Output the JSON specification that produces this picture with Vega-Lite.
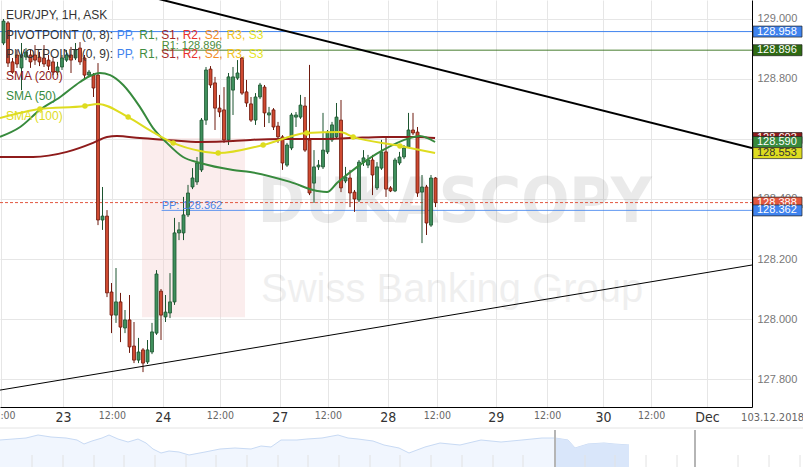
{
  "$schema": "https://vega.github.io/schema/vega-lite/v6.json",
  "width": 752,
  "height": 407,
  "autosize": {"type": "none"},
  "padding": {"left": 0, "top": 0, "right": 51, "bottom": 60},
  "config": {"view": {"stroke": null}, "font": "Liberation Sans", "scale": {"continuousPadding": 0}},
  "datasets": {
    "candles": [
      {"t":1,"o":128.920,"h":129.000,"l":128.913,"c":128.993},
      {"t":2,"o":128.987,"h":128.993,"l":128.840,"c":128.853},
      {"t":3,"o":128.857,"h":128.870,"l":128.817,"c":128.823},
      {"t":4,"o":128.880,"h":128.897,"l":128.837,"c":128.850},
      {"t":5,"o":128.837,"h":128.920,"l":128.763,"c":128.880},
      {"t":6,"o":128.873,"h":128.903,"l":128.863,"c":128.890},
      {"t":7,"o":128.880,"h":128.897,"l":128.837,"c":128.857},
      {"t":8,"o":128.880,"h":128.913,"l":128.847,"c":128.863},
      {"t":9,"o":128.873,"h":128.890,"l":128.843,"c":128.857},
      {"t":10,"o":128.870,"h":128.913,"l":128.840,"c":128.850},
      {"t":11,"o":128.863,"h":128.880,"l":128.830,"c":128.843},
      {"t":12,"o":128.857,"h":128.870,"l":128.813,"c":128.823},
      {"t":13,"o":128.823,"h":128.857,"l":128.813,"c":128.840},
      {"t":14,"o":128.840,"h":128.880,"l":128.830,"c":128.870},
      {"t":15,"o":128.863,"h":128.897,"l":128.857,"c":128.880},
      {"t":16,"o":128.880,"h":128.907,"l":128.820,"c":128.863},
      {"t":17,"o":128.870,"h":128.920,"l":128.863,"c":128.897},
      {"t":18,"o":128.903,"h":128.923,"l":128.847,"c":128.857},
      {"t":19,"o":128.870,"h":128.880,"l":128.797,"c":128.813},
      {"t":20,"o":128.813,"h":128.830,"l":128.807,"c":128.823},
      {"t":21,"o":128.813,"h":128.820,"l":128.740,"c":128.770},
      {"t":22,"o":128.813,"h":128.853,"l":128.313,"c":128.330},
      {"t":23,"o":128.330,"h":128.440,"l":128.297,"c":128.343},
      {"t":24,"o":128.343,"h":128.363,"l":128.073,"c":128.087},
      {"t":25,"o":128.090,"h":128.120,"l":127.953,"c":128.013},
      {"t":26,"o":128.013,"h":128.170,"l":127.987,"c":128.057},
      {"t":27,"o":128.057,"h":128.087,"l":127.923,"c":127.973},
      {"t":28,"o":127.970,"h":128.030,"l":127.953,"c":127.997},
      {"t":29,"o":127.997,"h":128.080,"l":127.887,"c":127.907},
      {"t":30,"o":127.910,"h":127.990,"l":127.853,"c":127.863},
      {"t":31,"o":127.863,"h":127.937,"l":127.853,"c":127.890},
      {"t":32,"o":127.897,"h":127.903,"l":127.823,"c":127.853},
      {"t":33,"o":127.857,"h":127.930,"l":127.850,"c":127.897},
      {"t":34,"o":127.890,"h":127.987,"l":127.883,"c":127.957},
      {"t":35,"o":127.953,"h":128.163,"l":127.947,"c":128.150},
      {"t":36,"o":128.093,"h":128.100,"l":127.930,"c":128.013},
      {"t":37,"o":128.007,"h":128.080,"l":127.990,"c":128.023},
      {"t":38,"o":128.020,"h":128.153,"l":128.003,"c":128.057},
      {"t":39,"o":128.057,"h":128.337,"l":128.047,"c":128.287},
      {"t":40,"o":128.287,"h":128.323,"l":128.263,"c":128.297},
      {"t":41,"o":128.287,"h":128.407,"l":128.263,"c":128.347},
      {"t":42,"o":128.347,"h":128.447,"l":128.340,"c":128.420},
      {"t":43,"o":128.440,"h":128.503,"l":128.433,"c":128.470},
      {"t":44,"o":128.457,"h":128.540,"l":128.447,"c":128.520},
      {"t":45,"o":128.497,"h":128.670,"l":128.490,"c":128.663},
      {"t":46,"o":128.663,"h":128.840,"l":128.647,"c":128.830},
      {"t":47,"o":128.833,"h":128.843,"l":128.770,"c":128.780},
      {"t":48,"o":128.787,"h":128.807,"l":128.630,"c":128.703},
      {"t":49,"o":128.703,"h":128.747,"l":128.673,"c":128.690},
      {"t":50,"o":128.697,"h":128.773,"l":128.587,"c":128.597},
      {"t":51,"o":128.597,"h":128.820,"l":128.580,"c":128.807},
      {"t":52,"o":128.763,"h":128.840,"l":128.680,"c":128.807},
      {"t":53,"o":128.803,"h":128.863,"l":128.797,"c":128.820},
      {"t":54,"o":128.870,"h":128.873,"l":128.747,"c":128.753},
      {"t":55,"o":128.757,"h":128.797,"l":128.707,"c":128.720},
      {"t":56,"o":128.717,"h":128.740,"l":128.657,"c":128.663},
      {"t":57,"o":128.663,"h":128.753,"l":128.647,"c":128.740},
      {"t":58,"o":128.740,"h":128.787,"l":128.733,"c":128.780},
      {"t":59,"o":128.773,"h":128.780,"l":128.640,"c":128.687},
      {"t":60,"o":128.680,"h":128.707,"l":128.653,"c":128.687},
      {"t":61,"o":128.697,"h":128.703,"l":128.630,"c":128.640},
      {"t":62,"o":128.643,"h":128.657,"l":128.587,"c":128.607},
      {"t":63,"o":128.607,"h":128.613,"l":128.497,"c":128.520},
      {"t":64,"o":128.513,"h":128.587,"l":128.507,"c":128.580},
      {"t":65,"o":128.570,"h":128.687,"l":128.563,"c":128.680},
      {"t":66,"o":128.673,"h":128.690,"l":128.640,"c":128.680},
      {"t":67,"o":128.673,"h":128.747,"l":128.667,"c":128.713},
      {"t":68,"o":128.710,"h":128.740,"l":128.557,"c":128.563},
      {"t":69,"o":128.597,"h":128.847,"l":128.413,"c":128.420},
      {"t":70,"o":128.453,"h":128.563,"l":128.387,"c":128.507},
      {"t":71,"o":128.507,"h":128.530,"l":128.497,"c":128.513},
      {"t":72,"o":128.507,"h":128.687,"l":128.500,"c":128.563},
      {"t":73,"o":128.557,"h":128.630,"l":128.550,"c":128.623},
      {"t":74,"o":128.597,"h":128.657,"l":128.590,"c":128.647},
      {"t":75,"o":128.607,"h":128.720,"l":128.603,"c":128.673},
      {"t":76,"o":128.663,"h":128.730,"l":128.423,"c":128.437},
      {"t":77,"o":128.460,"h":128.507,"l":128.453,"c":128.473},
      {"t":78,"o":128.470,"h":128.497,"l":128.373,"c":128.420},
      {"t":79,"o":128.423,"h":128.430,"l":128.357,"c":128.400},
      {"t":80,"o":128.397,"h":128.530,"l":128.390,"c":128.523},
      {"t":81,"o":128.523,"h":128.563,"l":128.510,"c":128.537},
      {"t":82,"o":128.513,"h":128.547,"l":128.503,"c":128.530},
      {"t":83,"o":128.530,"h":128.547,"l":128.413,"c":128.480},
      {"t":84,"o":128.437,"h":128.523,"l":128.430,"c":128.507},
      {"t":85,"o":128.503,"h":128.597,"l":128.497,"c":128.557},
      {"t":86,"o":128.557,"h":128.607,"l":128.407,"c":128.433},
      {"t":87,"o":128.437,"h":128.443,"l":128.423,"c":128.427},
      {"t":88,"o":128.427,"h":128.537,"l":128.423,"c":128.530},
      {"t":89,"o":128.520,"h":128.557,"l":128.513,"c":128.540},
      {"t":90,"o":128.540,"h":128.580,"l":128.533,"c":128.570},
      {"t":91,"o":128.573,"h":128.687,"l":128.570,"c":128.630},
      {"t":92,"o":128.630,"h":128.687,"l":128.613,"c":128.620},
      {"t":93,"o":128.623,"h":128.640,"l":128.407,"c":128.420},
      {"t":94,"o":128.423,"h":128.480,"l":128.253,"c":128.440},
      {"t":95,"o":128.440,"h":128.447,"l":128.280,"c":128.320},
      {"t":96,"o":128.313,"h":128.480,"l":128.307,"c":128.470},
      {"t":97,"o":128.470,"h":128.473,"l":128.373,"c":128.388}
    ],
    "sma": [
      {"s":"SMA200","t":0.22,"p":128.540},{"s":"SMA200","t":7.55,"p":128.540},{"s":"SMA200","t":15.1,"p":128.557},{"s":"SMA200","t":20.9,"p":128.587},{"s":"SMA200","t":24.0,"p":128.607},{"s":"SMA200","t":26.2,"p":128.610},{"s":"SMA200","t":31.3,"p":128.603},{"s":"SMA200","t":37.3,"p":128.597},{"s":"SMA200","t":44.7,"p":128.590},{"s":"SMA200","t":52.0,"p":128.593},{"s":"SMA200","t":55.8,"p":128.597},{"s":"SMA200","t":63.1,"p":128.600},{"s":"SMA200","t":70.7,"p":128.600},{"s":"SMA200","t":78.0,"p":128.603},{"s":"SMA200","t":85.3,"p":128.607},{"s":"SMA200","t":92.9,"p":128.607},{"s":"SMA200","t":96.9,"p":128.603},
      {"s":"SMA50","t":0.22,"p":128.607},{"s":"SMA50","t":4.7,"p":128.640},{"s":"SMA50","t":9.1,"p":128.697},{"s":"SMA50","t":13.6,"p":128.740},{"s":"SMA50","t":18.0,"p":128.790},{"s":"SMA50","t":20.2,"p":128.810},{"s":"SMA50","t":22.4,"p":128.820},{"s":"SMA50","t":24.7,"p":128.813},{"s":"SMA50","t":27.6,"p":128.780},{"s":"SMA50","t":31.3,"p":128.707},{"s":"SMA50","t":34.2,"p":128.637},{"s":"SMA50","t":37.3,"p":128.587},{"s":"SMA50","t":40.9,"p":128.540},{"s":"SMA50","t":44.7,"p":128.520},{"s":"SMA50","t":52.0,"p":128.497},{"s":"SMA50","t":55.8,"p":128.490},{"s":"SMA50","t":64.7,"p":128.457},{"s":"SMA50","t":70.7,"p":128.427},{"s":"SMA50","t":72.9,"p":128.423},{"s":"SMA50","t":75.1,"p":128.453},{"s":"SMA50","t":79.6,"p":128.507},{"s":"SMA50","t":85.3,"p":128.563},{"s":"SMA50","t":91.3,"p":128.603},{"s":"SMA50","t":93.5,"p":128.610},{"s":"SMA50","t":96.9,"p":128.590},
      {"s":"SMA100","t":0.22,"p":128.670},{"s":"SMA100","t":9.1,"p":128.700,"m":1},{"s":"SMA100","t":19.1,"p":128.710,"m":1},{"s":"SMA100","t":22.0,"p":128.717},{"s":"SMA100","t":28.7,"p":128.673,"m":1},{"s":"SMA100","t":34.2,"p":128.623},{"s":"SMA100","t":38.7,"p":128.587,"m":1},{"s":"SMA100","t":44.7,"p":128.560},{"s":"SMA100","t":48.7,"p":128.553,"m":1},{"s":"SMA100","t":58.7,"p":128.580,"m":1},{"s":"SMA100","t":68.4,"p":128.620,"m":1},{"s":"SMA100","t":75.8,"p":128.623},{"s":"SMA100","t":78.7,"p":128.607,"m":1},{"s":"SMA100","t":89.1,"p":128.577,"m":1},{"s":"SMA100","t":96.9,"p":128.553}
    ],
    "levels": [
      {"s":"PP","p":128.958,"t0":0.22,"t1":167.33},
      {"s":"R1L","p":128.896,"t0":36.15,"t1":167.33,"lab":"R1: 128.896"},
      {"s":"PP","p":128.362,"t0":36.15,"t1":167.33,"lab":"PP: 128.362"},
      {"s":"last","p":128.388,"t0":0.22,"t1":167.33}
    ],
    "trend": [
      {"id":"A","t":26.89,"p":129.099},{"id":"A","t":167.33,"p":128.570},
      {"id":"B","t":0.22,"p":127.763},{"id":"B","t":167.33,"p":128.180}
    ],
    "legend": [
      {"t":1.553,"p":129.013,"s":"txt","txt":"EUR/JPY, 1H, ASK"},
      {"t":1.553,"p":128.947,"s":"txt","txt":"PIVOTPOINT (0, 8):"},
      {"t":26.144,"p":128.947,"s":"PP","txt":"PP,"},
      {"t":31.182,"p":128.947,"s":"R1","txt":"R1,"},
      {"t":36.071,"p":128.947,"s":"S1","txt":"S1,"},
      {"t":40.811,"p":128.947,"s":"R2","txt":"R2,"},
      {"t":45.7,"p":128.947,"s":"S2","txt":"S2,"},
      {"t":50.589,"p":128.947,"s":"R3","txt":"R3,"},
      {"t":55.478,"p":128.947,"s":"S3","txt":"S3"},
      {"t":1.553,"p":128.883,"s":"txt","txt":"PIVOTPOINT (0, 9):"},
      {"t":26.144,"p":128.883,"s":"PP","txt":"PP,"},
      {"t":31.182,"p":128.883,"s":"R1","txt":"R1,"},
      {"t":36.071,"p":128.883,"s":"S1","txt":"S1,"},
      {"t":40.811,"p":128.883,"s":"R2","txt":"R2,"},
      {"t":45.7,"p":128.883,"s":"S2","txt":"S2,"},
      {"t":50.589,"p":128.883,"s":"R3","txt":"R3,"},
      {"t":55.478,"p":128.883,"s":"S3","txt":"S3"},
      {"t":1.553,"p":128.810,"s":"SMA200","txt":"SMA (200)"},
      {"t":1.553,"p":128.743,"s":"SMA50","txt":"SMA (50)"},
      {"t":1.553,"p":128.677,"s":"SMA100","txt":"SMA (100)"}
    ],
    "tags": [
      {"p":128.958,"s":"PP","lab":"128.958","g":"front"},
      {"p":128.896,"s":"R1L","lab":"128.896","g":"front"},
      {"p":128.603,"s":"SMA200","lab":"128.603","g":"back"},
      {"p":128.590,"s":"SMA50","lab":"128.590","g":"front"},
      {"p":128.553,"s":"SMA100","lab":"128.553","g":"front"},
      {"p":128.388,"s":"last","lab":"128.388","g":"back"},
      {"p":128.362,"s":"PP","lab":"128.362","g":"front"}
    ],
    "nav": [
      {"i":0,"v":27},{"i":26,"v":29},{"i":38,"v":32},{"i":51,"v":30},{"i":66,"v":29},{"i":77,"v":27},{"i":84,"v":23},{"i":92,"v":26},{"i":102,"v":29},{"i":109,"v":32},{"i":118,"v":28},{"i":128,"v":25},{"i":138,"v":28},{"i":146,"v":24},{"i":153,"v":18},{"i":161,"v":14},{"i":169,"v":16},{"i":179,"v":15},{"i":189,"v":12},{"i":205,"v":15},{"i":220,"v":18},{"i":235,"v":19},{"i":251,"v":18},{"i":261,"v":21},{"i":271,"v":20},{"i":281,"v":27},{"i":297,"v":27},{"i":307,"v":28},{"i":322,"v":29},{"i":338,"v":32},{"i":348,"v":29},{"i":358,"v":28},{"i":373,"v":26},{"i":384,"v":22},{"i":399,"v":19},{"i":409,"v":14},{"i":425,"v":20},{"i":440,"v":24},{"i":460,"v":22},{"i":481,"v":27},{"i":501,"v":25},{"i":522,"v":27},{"i":542,"v":29},{"i":555,"v":29},{"i":568,"v":27},{"i":575,"v":19},{"i":588,"v":23},{"i":604,"v":24},{"i":614,"v":23},{"i":629,"v":22}
    ],
    "navticks": [{"i":32},{"i":63},{"i":94},{"i":124},{"i":155},{"i":186},{"i":216},{"i":247},{"i":278},{"i":308},{"i":339},{"i":370},{"i":400},{"i":431},{"i":462},{"i":493},{"i":523},{"i":585},{"i":615},{"i":646},{"i":677},{"i":738},{"i":769},{"i":800}],
    "handles": [{"i":555},{"i":695}]
  },
  "resolve": {"scale": {"x": "independent", "y": "independent", "color": "independent"}, "axis": {"x": "independent", "y": "independent"}},
  "layer": [
    {
      "layer": [
        {
          "data": {"values": [{}]},
          "mark": {"type": "rect", "color": "#f4cfcf", "opacity": 0.38},
          "encoding": {
            "x": {"datum": 31.78, "type": "quantitative", "scale": {"domain": [0.22, 167.33], "nice": false, "zero": false, "padding": 0}},
            "x2": {"datum": 54.66},
            "y": {"datum": 128.603, "type": "quantitative", "scale": {"domain": [127.7067, 129.0633], "nice": false, "zero": false, "padding": 0}},
            "y2": {"datum": 128.006}
          }
        },
        {
          "data": {"values": [{}]},
          "mark": {"type": "text", "text": "DUKASCOPY", "font": "DejaVu Sans Condensed, Liberation Sans Narrow, DejaVu Sans, sans-serif", "fontWeight": "bold", "fontSize": 63, "color": "#000000", "opacity": 0.08, "align": "center", "baseline": "middle"},
          "encoding": {
            "x": {"datum": 101.3, "type": "quantitative"},
            "y": {"datum": 128.387, "type": "quantitative"}
          }
        },
        {
          "data": {"values": [{}]},
          "mark": {"type": "text", "text": "Swiss Banking Group", "font": "Liberation Sans, Arial, sans-serif", "fontSize": 40, "color": "#000000", "opacity": 0.06, "align": "center", "baseline": "middle"},
          "encoding": {
            "x": {"datum": 100.7, "type": "quantitative"},
            "y": {"datum": 128.097, "type": "quantitative"}
          }
        },
        {
          "data": {"name": "levels"},
          "mark": {"type": "rule", "strokeWidth": 1},
          "encoding": {
            "x": {"field": "t0", "type": "quantitative", "title": null},
            "x2": {"field": "t1"},
            "y": {"field": "p", "type": "quantitative", "title": null},
            "color": {"field": "s", "type": "nominal", "legend": null, "scale": {"domain": ["txt","PP","R1","S1","R2","S2","R3","S3","SMA200","SMA50","SMA100","R1L","last"], "range": ["#333333","#3f83ee","#3f8d3f","#a52828","#e8302c","#f28b1f","#f1c21d","#e6e41f","#8e1b1b","#378a3d","#dedc1f","#2e6a12","#e2573f"]}},
            "strokeDash": {"condition": {"test": "datum.s == 'last'", "value": [3, 2]}, "value": [1, 0]}
          }
        },
        {
          "data": {"name": "candles"},
          "mark": {"type": "rule", "strokeWidth": 1},
          "encoding": {
            "x": {"field": "t", "type": "quantitative", "title": null, "scale": {"domain": [0.22, 167.33], "nice": false, "zero": false, "padding": 0},
              "axis": {
                "values": [0.55,14.22,25.1,36.4,49.1,62.4,73.1,86.4,97.3,110.4,121.8,134.2,144.9,157.3],
                "labelExpr": "['12:00','23','12:00','24','12:00','27','12:00','28','12:00','29','12:00','30','12:00','Dec'][indexof([0.55,14.22,25.1,36.4,49.1,62.4,73.1,86.4,97.3,110.4,121.8,134.2,144.9,157.3], datum.value)]",
                "labelFont": "Liberation Sans Narrow, DejaVu Sans Condensed, Roboto, Liberation Sans, sans-serif",
                "labelFontSize": {"condition": {"test": "indexof([14.22,36.4,62.4,86.4,110.4,134.2,157.3], datum.value) >= 0", "value": 14}, "value": 10.5},
                "labelColor": {"condition": {"test": "indexof([14.22,36.4,62.4,86.4,110.4,134.2,157.3], datum.value) >= 0", "value": "#333333"}, "value": "#666666"},
                "labelPadding": 3,
                "labelOverlap": false,
                "labelFlush": false,
                "ticks": false,
                "grid": true,
                "gridColor": "#e6e6e6",
                "domainColor": "#000000",
                "title": null
              }
            },
            "y": {"field": "l", "type": "quantitative", "title": null, "scale": {"domain": [127.7067, 129.0633], "nice": false, "zero": false, "padding": 0},
              "axis": {
                "orient": "right",
                "values": [127.8, 128.0, 128.2, 128.4, 128.6, 128.8, 129.0],
                "format": ".3f",
                "labelFont": "Liberation Sans, Arial, sans-serif",
                "labelFontSize": 11,
                "labelColor": "#777777",
                "labelPadding": 5,
                "ticks": false,
                "grid": true,
                "gridColor": "#e6e6e6",
                "domainColor": "#000000",
                "title": null
              }
            },
            "y2": {"field": "h"},
            "color": {"condition": {"test": "datum.c >= datum.o", "value": "#1d5530"}, "value": "#6e1a0e"}
          }
        },
        {
          "data": {"name": "candles"},
          "mark": {"type": "bar", "width": 3, "strokeWidth": 0.8},
          "encoding": {
            "x": {"field": "t", "type": "quantitative", "title": null},
            "y": {"field": "o", "type": "quantitative", "title": null},
            "y2": {"field": "c"},
            "fill": {"condition": {"test": "datum.c >= datum.o", "value": "#3f8f5c"}, "value": "#cf4a31"},
            "stroke": {"condition": {"test": "datum.c >= datum.o", "value": "#1d5530"}, "value": "#6e1a0e"}
          }
        },
        {
          "data": {"name": "sma"},
          "mark": {"type": "line", "interpolate": "monotone", "strokeWidth": 2},
          "encoding": {
            "x": {"field": "t", "type": "quantitative", "title": null},
            "y": {"field": "p", "type": "quantitative", "title": null},
            "color": {"field": "s", "type": "nominal", "legend": null},
            "detail": {"field": "s"}
          }
        },
        {
          "data": {"name": "sma"},
          "transform": [{"filter": "datum.m == 1"}],
          "mark": {"type": "point", "filled": true, "size": 30, "opacity": 1},
          "encoding": {
            "x": {"field": "t", "type": "quantitative", "title": null},
            "y": {"field": "p", "type": "quantitative", "title": null},
            "color": {"field": "s", "type": "nominal", "legend": null}
          }
        },
        {
          "data": {"name": "trend"},
          "transform": [{"filter": "datum.id == 'A'"}],
          "mark": {"type": "line", "color": "#000000", "strokeWidth": 2, "clip": true},
          "encoding": {
            "x": {"field": "t", "type": "quantitative", "title": null},
            "y": {"field": "p", "type": "quantitative", "title": null}
          }
        },
        {
          "data": {"name": "trend"},
          "transform": [{"filter": "datum.id == 'B'"}],
          "mark": {"type": "line", "color": "#000000", "strokeWidth": 1, "clip": true},
          "encoding": {
            "x": {"field": "t", "type": "quantitative", "title": null},
            "y": {"field": "p", "type": "quantitative", "title": null}
          }
        },
        {
          "data": {"name": "legend"},
          "mark": {"type": "text", "align": "left", "baseline": "middle", "fontSize": 12, "font": "Liberation Sans, Arial, sans-serif"},
          "encoding": {
            "x": {"field": "t", "type": "quantitative", "title": null},
            "y": {"field": "p", "type": "quantitative", "title": null},
            "text": {"field": "txt"},
            "color": {"field": "s", "type": "nominal", "legend": null}
          }
        },
        {
          "data": {"name": "levels"},
          "transform": [{"filter": "datum.lab"}],
          "mark": {"type": "text", "align": "left", "baseline": "bottom", "fontSize": 11, "font": "Liberation Sans, Arial, sans-serif", "dy": 1},
          "encoding": {
            "x": {"field": "t0", "type": "quantitative", "title": null},
            "y": {"field": "p", "type": "quantitative", "title": null},
            "text": {"field": "lab"},
            "color": {"condition": {"test": "datum.s == 'R1L'", "value": "#4b8b3b"}, "value": "#4a86e8"}
          }
        },
        {
          "data": {"name": "tags"},
          "transform": [{"filter": "datum.g == 'back'"}],
          "mark": {"type": "tick", "orient": "horizontal", "size": 49, "thickness": 11, "opacity": 1, "stroke": "#222222", "strokeWidth": 0.7},
          "encoding": {
            "x": {"datum": 173.0, "type": "quantitative"},
            "y": {"field": "p", "type": "quantitative", "title": null},
            "color": {"field": "s", "type": "nominal", "legend": null}
          }
        },
        {
          "data": {"name": "tags"},
          "transform": [{"filter": "datum.g == 'back'"}],
          "mark": {"type": "text", "align": "left", "baseline": "middle", "fontSize": 11, "font": "Liberation Sans, Arial, sans-serif"},
          "encoding": {
            "x": {"datum": 168.44, "type": "quantitative"},
            "y": {"field": "p", "type": "quantitative", "title": null},
            "text": {"field": "lab"},
            "color": {"value": "#ffffff"}
          }
        },
        {
          "data": {"name": "tags"},
          "transform": [{"filter": "datum.g == 'front'"}],
          "mark": {"type": "tick", "orient": "horizontal", "size": 49, "thickness": 11, "opacity": 1, "stroke": "#222222", "strokeWidth": 0.7},
          "encoding": {
            "x": {"datum": 173.0, "type": "quantitative"},
            "y": {"field": "p", "type": "quantitative", "title": null},
            "color": {"field": "s", "type": "nominal", "legend": null}
          }
        },
        {
          "data": {"name": "tags"},
          "transform": [{"filter": "datum.g == 'front'"}],
          "mark": {"type": "text", "align": "left", "baseline": "middle", "fontSize": 11, "font": "Liberation Sans, Arial, sans-serif"},
          "encoding": {
            "x": {"datum": 168.44, "type": "quantitative"},
            "y": {"field": "p", "type": "quantitative", "title": null},
            "text": {"field": "lab"},
            "color": {"condition": {"test": "datum.s == 'SMA100'", "value": "#333333"}, "value": "#ffffff"}
          }
        },
        {
          "data": {"values": [{}]},
          "mark": {"type": "text", "text": "103.12.2018", "font": "Liberation Sans Narrow, DejaVu Sans Condensed, Roboto, Liberation Sans, sans-serif", "fontSize": 11, "color": "#666666", "align": "center", "baseline": "middle"},
          "encoding": {
            "x": {"datum": 171.9, "type": "quantitative"},
            "y": {"datum": 127.6717, "type": "quantitative"}
          }
        }
      ]
    },
    {
      "layer": [
        {
          "data": {"name": "nav"},
          "mark": {"type": "area", "color": "#ebf2fd", "line": {"color": "#c8daf4", "strokeWidth": 1}},
          "encoding": {
            "x": {"field": "i", "type": "quantitative", "title": null, "scale": {"domain": [0, 803], "range": [0, 803], "nice": false, "zero": false, "padding": 0}, "axis": null},
            "y": {"field": "v", "type": "quantitative", "title": null, "scale": {"domain": [0, 39], "range": [467, 428], "nice": false, "zero": false, "padding": 0}, "axis": null}
          }
        },
        {
          "data": {"name": "nav"},
          "transform": [{"filter": "datum.i >= 555"}],
          "mark": {"type": "area", "color": "#d9e6fa"},
          "encoding": {
            "x": {"field": "i", "type": "quantitative", "title": null},
            "y": {"field": "v", "type": "quantitative", "title": null}
          }
        },
        {
          "data": {"name": "navticks"},
          "mark": {"type": "rule", "color": "#e2e2e2", "strokeWidth": 1},
          "encoding": {
            "x": {"field": "i", "type": "quantitative", "title": null},
            "y": {"datum": 0, "type": "quantitative"},
            "y2": {"datum": 12}
          }
        },
        {
          "data": {"name": "handles"},
          "mark": {"type": "rule", "color": "#b5b5b5", "strokeWidth": 2},
          "encoding": {
            "x": {"field": "i", "type": "quantitative", "title": null},
            "y": {"datum": 0, "type": "quantitative"},
            "y2": {"datum": 37}
          }
        },
        {
          "data": {"values": [{}]},
          "mark": {"type": "rule", "color": "#e4e4e4", "strokeWidth": 1},
          "encoding": {
            "x": {"datum": 0, "type": "quantitative"},
            "x2": {"datum": 803},
            "y": {"datum": 39, "type": "quantitative"}
          }
        }
      ]
    }
  ]
}
